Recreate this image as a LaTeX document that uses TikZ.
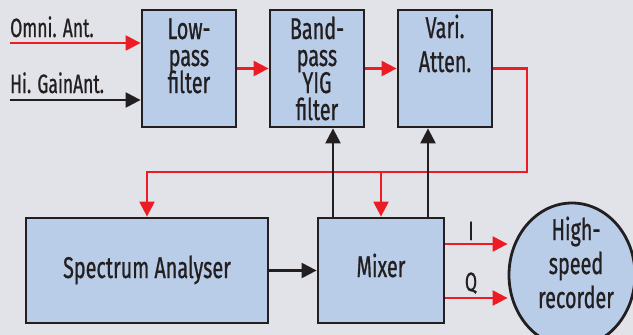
\documentclass[tikz,border=0pt]{standalone}
\usepackage{fontspec}
\setmainfont{Fira Sans}[FakeStretch=0.66, FakeBold=0.7]
\usetikzlibrary{arrows.meta,shapes.geometric}
\definecolor{bg}{RGB}{225,227,232}
\definecolor{boxfill}{RGB}{185,205,232}
\definecolor{sigred}{RGB}{237,28,36}
\definecolor{ink}{RGB}{35,31,32}
\begin{document}
\begin{tikzpicture}[x=1pt,y=-1pt,
  blk/.style={draw=ink, line width=2.8pt, fill=boxfill, inner sep=0pt},
  txt/.style={text=ink, font=\fontsize{30}{27}\selectfont, inner sep=0pt, anchor=base, text height=20pt, text depth=5pt},
  lab/.style={text=ink, font=\fontsize{26.5}{25}\selectfont, inner sep=0pt, anchor=base west},
  redarrow/.style={draw=sigred, line width=2.3pt, -{Triangle[length=15pt,width=15pt]}},
  blkarrow/.style={draw=ink, line width=2.3pt, -{Triangle[length=15pt,width=15pt]}},
]
\fill[bg] (0,0) rectangle (633,335);
\useasboundingbox (0,0) rectangle (633,335);

% blocks
\node[blk, minimum width=94pt, minimum height=117pt] (lp) at (189,68.5) {};
\node[blk, minimum width=94pt, minimum height=117pt] (bp) at (317,68.5) {};
\node[blk, minimum width=94pt, minimum height=117pt] (va) at (445,68.5) {};
\node[blk, minimum width=242pt, minimum height=105pt] (sa) at (147,270.5) {};
\node[blk, minimum width=126pt, minimum height=105pt] (mx) at (381,270.5) {};
\node[blk, ellipse, minimum width=126pt, minimum height=144pt] (rec) at (572,275) {};

% texts
\node[txt] (lp1) at (189,39) {Low-};
\node[txt] (lp2) at (189,66) {pass};
\node[txt] (lp3) at (189,93) {filter};
\node[txt] (bp1) at (317,39) {Band-};
\node[txt] (bp2) at (317,66) {pass};
\node[txt] (bp3) at (317,93) {YIG};
\node[txt] (bp4) at (317,120) {filter};
\node[txt] (va1) at (445,38) {Vari.};
\node[txt] (va2) at (445,72) {Atten.};
\node[txt] (sat) at (147,278) {Spectrum Analyser};
\node[txt] (mxt) at (381,277) {Mixer};
\node[txt] (rc1) at (576,240) {High-};
\node[txt] (rc2) at (576,274) {speed};
\node[txt] (rc3) at (576,308) {recorder};
\node[lab] (omt) at (10,37) {Omni. Ant.};
\node[lab] (hgt) at (10,93) {Hi. GainAnt.};
\node[txt, font=\fontsize{26.5}{25}\selectfont] (it) at (471,240) {I};
\node[txt, font=\fontsize{26.5}{25}\selectfont] (qt) at (471,291) {Q};

% connectors
\coordinate (omni) at (10,43);
\coordinate (hig) at (10,100);
\coordinate (loop) at (527,172);
\coordinate (iy) at (0,244);
\coordinate (qy) at (0,298);
\draw[redarrow] (omni) -- (omni -| lp.west);
\draw[blkarrow] (hig) -- (hig -| lp.west);
\draw[redarrow] (lp.east) -- (bp.west);
\draw[redarrow] (bp.east) -- (va.west);
\draw[redarrow] (va.east) -| (loop) -| (sa.north);
\draw[redarrow] (loop -| mx.north) -- (mx.north);
\draw[blkarrow] ([xshift=-48pt]mx.north) -- ([xshift=-48pt]mx.north |- bp.south);
\draw[blkarrow] ([xshift=47pt]mx.north) -- ([xshift=47pt]mx.north |- va.south);
\draw[blkarrow] (sa.east) -- (mx.west);
\draw[redarrow] (mx.east |- iy) -- (rec.west |- iy);
\draw[redarrow] (mx.east |- qy) -- (rec.west |- qy);
\end{tikzpicture}
\end{document}
